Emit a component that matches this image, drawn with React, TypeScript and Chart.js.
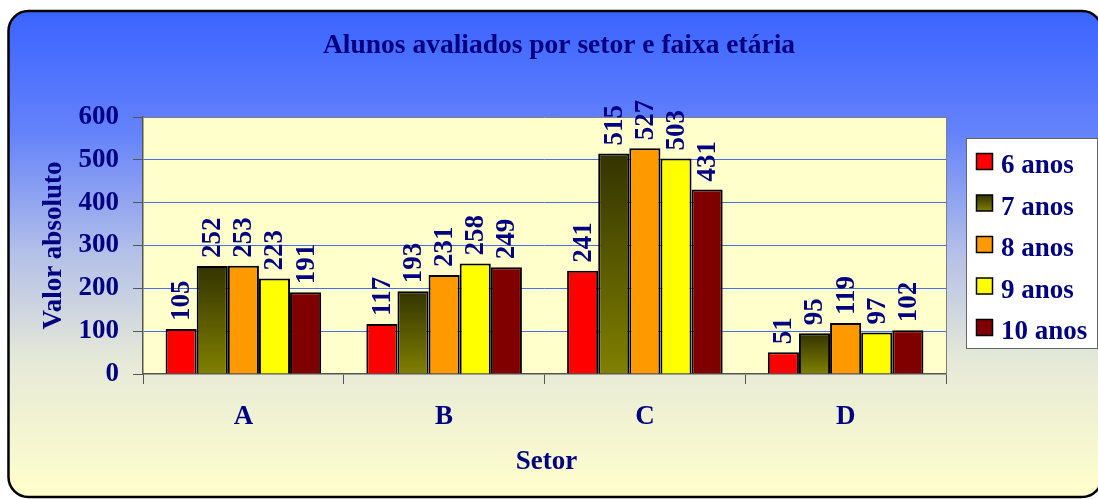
import React, { useEffect, useRef } from "react";
import { Chart, registerables } from "chart.js";

Chart.register(...registerables);

const categories = ["A", "B", "C", "D"];
const seriesNames = ["6 anos", "7 anos", "8 anos", "9 anos", "10 anos"];
const anos6 = [105, 117, 241, 51];
const anos7 = [252, 193, 515, 95];
const anos8 = [253, 231, 527, 119];
const anos9 = [223, 258, 503, 97];
const anos10 = [191, 249, 431, 102];
const seriesValues = [anos6, anos7, anos8, anos9, anos10];
const seriesColors = ["#FF0000", "#808000", "#FF9900", "#FFFF00", "#800000"];
const yTicks = [0, 100, 200, 300, 400, 500, 600];

const titleText = "Alunos avaliados por setor e faixa etária";
const yTitle = "Valor absoluto";
const xTitle = "Setor";

const NAVY = "#000080";
const FONT = "'Liberation Serif', 'Times New Roman', serif";

function oliveGradient(ctx: CanvasRenderingContext2D, top: number, bottom: number) {
  const g = ctx.createLinearGradient(0, top, 0, bottom);
  g.addColorStop(0, "#333300");
  g.addColorStop(1, "#808000");
  return g;
}

const decorPlugin = {
  id: "decor",
  beforeDraw(chart: any) {
    const ctx: CanvasRenderingContext2D = chart.ctx;
    const W = chart.width;
    const H = chart.height;
    ctx.save();
    ctx.fillStyle = "#ffffff";
    ctx.fillRect(0, 0, W, H);
    const x0 = 8.5, y0 = 11, x1 = 1102, y1 = 497, r = 20;
    ctx.beginPath();
    ctx.moveTo(x0 + r, y0);
    ctx.lineTo(x1 - r, y0);
    ctx.arcTo(x1, y0, x1, y0 + r, r);
    ctx.lineTo(x1, y1 - r);
    ctx.arcTo(x1, y1, x1 - r, y1, r);
    ctx.lineTo(x0 + r, y1);
    ctx.arcTo(x0, y1, x0, y1 - r, r);
    ctx.lineTo(x0, y0 + r);
    ctx.arcTo(x0, y0, x0 + r, y0, r);
    ctx.closePath();
    const g = ctx.createLinearGradient(0, y0, 0, y1);
    g.addColorStop(0, "#3A64FF");
    g.addColorStop(0.25, "#6482FA");
    g.addColorStop(0.5, "#B4C0E8");
    g.addColorStop(0.72, "#E6E9D8");
    g.addColorStop(1, "#FFFFCC");
    ctx.fillStyle = g;
    ctx.fill();
    ctx.lineWidth = 2.5;
    ctx.strokeStyle = "#000000";
    ctx.stroke();

    const a = chart.chartArea;
    ctx.fillStyle = "#FFFFCC";
    ctx.fillRect(a.left, a.top, a.right - a.left, a.bottom - a.top);

    // title
    ctx.fillStyle = NAVY;
    ctx.font = `bold 27.5px ${FONT}`;
    ctx.textAlign = "center";
    ctx.textBaseline = "alphabetic";
    ctx.fillText(titleText, 559, 52.5);

    // x axis title
    ctx.font = `bold 27px ${FONT}`;
    ctx.fillText(xTitle, 546.5, 469);

    // y axis title
    ctx.save();
    ctx.translate(60.5, 245.5);
    ctx.rotate(-Math.PI / 2);
    ctx.fillText(yTitle, 0, 0);
    ctx.restore();
    ctx.restore();
  },
  beforeDatasetsDraw(chart: any) {
    const ctx: CanvasRenderingContext2D = chart.ctx;
    const a = chart.chartArea;
    ctx.save();
    ctx.strokeStyle = "#808080";
    ctx.lineWidth = 1;
    ctx.beginPath();
    ctx.moveTo(a.right + 0.5, a.top);
    ctx.lineTo(a.right + 0.5, a.bottom);
    ctx.stroke();
    ctx.restore();
  },
  afterDatasetsDraw(chart: any) {
    const ctx: CanvasRenderingContext2D = chart.ctx;
    ctx.save();
    ctx.fillStyle = NAVY;
    ctx.font = `bold 27px ${FONT}`;
    ctx.textAlign = "left";
    ctx.textBaseline = "middle";
    chart.data.datasets.forEach((ds: any, di: number) => {
      const meta = chart.getDatasetMeta(di);
      meta.data.forEach((el: any, i: number) => {
        ctx.save();
        ctx.translate(el.x + 1, el.y - 8);
        ctx.rotate(-Math.PI / 2);
        ctx.fillText(String(ds.data[i]), 0, 0);
        ctx.restore();
      });
    });
    ctx.restore();
  },
  afterDraw(chart: any) {
    const ctx: CanvasRenderingContext2D = chart.ctx;
    ctx.save();
    // legend box
    ctx.fillStyle = "#FFFFFF";
    ctx.fillRect(966.5, 138.5, 131, 210);
    ctx.strokeStyle = "#666666";
    ctx.lineWidth = 1;
    ctx.strokeRect(966.5, 138.5, 131, 210);
    ctx.font = `bold 27px ${FONT}`;
    ctx.textAlign = "left";
    ctx.textBaseline = "alphabetic";
    seriesNames.forEach((name, i) => {
      const cy = 161.5 + i * 41.5;
      const sq = 16;
      const sx = 976.5;
      const sy = cy - sq / 2;
      ctx.fillStyle = i === 1 ? oliveGradient(ctx, sy, sy + sq) : seriesColors[i];
      ctx.fillRect(sx, sy, sq, sq);
      ctx.strokeStyle = "#000000";
      ctx.lineWidth = 1.5;
      ctx.strokeRect(sx, sy, sq, sq);
      ctx.fillStyle = NAVY;
      ctx.fillText(name, 1001, cy + 11.5);
    });
    ctx.restore();
  },
};

export default function App() {
  const ref = useRef<HTMLCanvasElement | null>(null);
  useEffect(() => {
    document.body.style.margin = "0";
    const canvas = ref.current;
    if (!canvas) return;
    const datasets = seriesNames.map((name, si) => ({
      label: name,
      data: seriesValues[si],
      backgroundColor:
        si === 1
          ? (c: any) => {
              const y = c.chart.scales && c.chart.scales.y;
              if (!y || c.type !== "data") return seriesColors[1];
              const top = y.getPixelForValue(c.raw);
              const bot = y.getPixelForValue(0);
              if (!Number.isFinite(top) || !Number.isFinite(bot) || bot - top < 1) return seriesColors[1];
              return oliveGradient(c.chart.ctx, top, bot);
            }
          : seriesColors[si],
      borderColor: "#000000",
      borderWidth: 2,
      barPercentage: 1,
      categoryPercentage: 0.775,
    }));
    const chart = new Chart(canvas, {
      type: "bar",
      data: { labels: categories, datasets },
      plugins: [decorPlugin],
      options: {
        responsive: false,
        animation: false,
        devicePixelRatio: 1,
        events: [],
        layout: { padding: { left: 0, top: 117, right: 152, bottom: 0 } },
        plugins: {
          legend: { display: false },
          title: { display: false },
          tooltip: { enabled: false },
        },
        scales: {
          x: {
            afterFit: (s: any) => {
              s.height = 125;
            },
            grid: {
              display: true,
              drawOnChartArea: false,
              drawTicks: true,
              tickLength: 10,
              tickColor: "#555555",
              offset: true,
            },
            border: { display: true, color: "#555555", width: 1.5 },
            ticks: {
              color: NAVY,
              font: { family: FONT, size: 27, weight: "bold" },
              padding: 17,
              maxRotation: 0,
            },
          },
          y: {
            min: 0,
            max: 600,
            afterFit: (s: any) => {
              s.width = 143;
            },
            afterBuildTicks: (s: any) => {
              s.ticks = yTicks.map((v) => ({ value: v }));
            },
            grid: {
              display: true,
              drawTicks: true,
              tickLength: 10,
              tickColor: "#555555",
              lineWidth: 1,
              color: (c: any) =>
                c.tick && c.tick.value === 0
                  ? "rgba(0,0,0,0)"
                  : c.tick && c.tick.value === 600
                  ? "#808080"
                  : "#4B6EF0",
            },
            border: { display: true, color: "#555555", width: 1.5 },
            ticks: {
              color: NAVY,
              font: { family: FONT, size: 27, weight: "bold" },
              padding: 14,
              stepSize: 100,
            },
          },
        },
      },
    });
    return () => chart.destroy();
  }, []);
  return (
    <canvas
      ref={ref}
      width={1098}
      height={499}
      style={{ display: "block", width: "1098px", height: "499px" }}
    />
  );
}
